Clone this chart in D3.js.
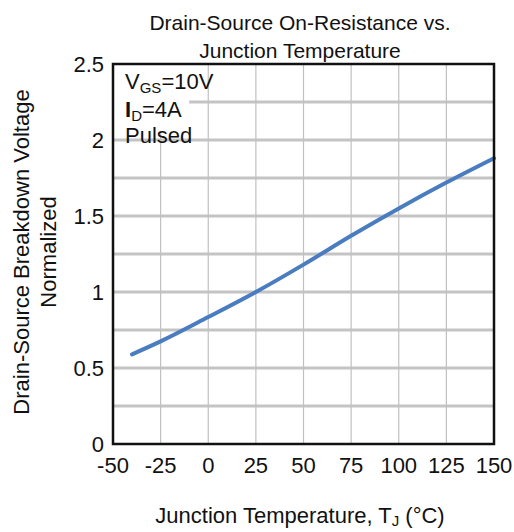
<!DOCTYPE html>
<style>
body { margin: 0; background: #fff; }
text { font-family: "Liberation Sans", Arial, sans-serif; fill: #111; }
.grid-h { stroke: #c4c4c4; stroke-width: 3px; }
.grid-v { stroke: #c0c0c0; stroke-width: 1.2px; }
.frame { fill: none; stroke: #111; stroke-width: 2.5px; }
.curve { fill: none; stroke: #4a7cc0; stroke-width: 4px; stroke-linecap: round; }
</style>
<svg width="514" height="532"></svg>
<script src="https://d3js.org/d3.v7.min.js"></script>
<script>

var svg = d3.select('svg'),
    margin = {top: 64, right: 20, bottom: 88, left: 113},
    width = 514 - margin.left - margin.right,
    height = 532 - margin.top - margin.bottom;

// data
var temps = [-40, -25, 0, 25, 50, 75, 100, 125, 150];
var resistance = [0.59, 0.675, 0.835, 1.0, 1.18, 1.37, 1.55, 1.72, 1.88];
var xTicks = [-50, -25, 0, 25, 50, 75, 100, 125, 150];
var yTicks = [0, 0.5, 1, 1.5, 2, 2.5];
var yGrid = [0.25, 0.5, 0.75, 1, 1.25, 1.5, 1.75, 2, 2.25];
var titleLines = ['Drain-Source On-Resistance vs.', 'Junction Temperature'];
var yLabelLines = ['Drain-Source Breakdown Voltage', 'Normalized'];

var x = d3.scaleLinear().domain([-50, 150]).range([0, width]);
var y = d3.scaleLinear().domain([0, 2.5]).range([height, 0]);

var g = svg.append('g').attr('transform', 'translate(' + margin.left + ',' + margin.top + ')');

g.selectAll('.grid-h')
  .data(yGrid)
  .enter().append('line')
  .attr('class', 'grid-h')
  .attr('x1', 0).attr('x2', width)
  .attr('y1', function(d){ return y(d) })
  .attr('y2', function(d){ return y(d) });

g.selectAll('.grid-v')
  .data(xTicks.slice(1, -1))
  .enter().append('line')
  .attr('class', 'grid-v')
  .attr('x1', function(d){ return x(d) })
  .attr('x2', function(d){ return x(d) })
  .attr('y1', 0).attr('y2', height);

// white box behind the conditions note
g.append('rect')
  .attr('x', 0).attr('y', 0)
  .attr('width', x(-10)).attr('height', y(2.05))
  .attr('fill', '#fff');

var line = d3.line()
  .x(function(d, i){ return x(temps[i]) })
  .y(function(d){ return y(d) })
  .curve(d3.curveMonotoneX);

g.append('path')
  .datum(resistance)
  .attr('class', 'curve')
  .attr('d', line);

g.append('rect')
  .attr('class', 'frame')
  .attr('x', 0).attr('y', 0)
  .attr('width', width).attr('height', height);

// tick labels
g.selectAll('.xt')
  .data(xTicks)
  .enter().append('text')
  .attr('class', 'xt')
  .attr('x', function(d){ return x(d) })
  .attr('y', height + 29)
  .attr('text-anchor', 'middle')
  .style('font-size', '22px')
  .text(function(d){ return d });

g.selectAll('.yt')
  .data(yTicks)
  .enter().append('text')
  .attr('class', 'yt')
  .attr('x', -9)
  .attr('y', function(d){ return y(d) + 8 })
  .attr('text-anchor', 'end')
  .style('font-size', '22px')
  .text(function(d){ return d });

// conditions note, one text per line
var n1 = g.append('text').attr('x', 12).attr('y', 25).style('font-size', '22px');
n1.append('tspan').text('V');
n1.append('tspan').attr('dy', 4).style('font-size', '15px').text('GS');
n1.append('tspan').attr('dy', -4).text('=10V');
var n2 = g.append('text').attr('x', 12).attr('y', 53).style('font-size', '22px');
n2.append('tspan').style('font-weight', 'bold').text('I');
n2.append('tspan').attr('dy', 4).style('font-size', '15px').text('D');
n2.append('tspan').attr('dy', -4).text('=4A');
g.append('text').attr('x', 12).attr('y', 79).style('font-size', '22px').text('Pulsed');

// title
svg.selectAll('.title')
  .data(titleLines)
  .enter().append('text')
  .attr('class', 'title')
  .attr('x', 300)
  .attr('y', function(d, i){ return 30 + i * 28 })
  .attr('text-anchor', 'middle')
  .style('font-size', '21px')
  .text(function(d){ return d });

// y label
svg.selectAll('.ylab')
  .data(yLabelLines)
  .enter().append('text')
  .attr('class', 'ylab')
  .attr('transform', function(d, i){ return 'translate(' + (29 + i * 27) + ',252) rotate(-90)' })
  .attr('text-anchor', 'middle')
  .style('font-size', '22px')
  .text(function(d){ return d });

// x label
var xl = svg.append('text')
  .attr('x', 300).attr('y', 523)
  .attr('text-anchor', 'middle')
  .style('font-size', '22px');
xl.append('tspan').text('Junction Temperature, T');
xl.append('tspan').attr('dy', 3).style('font-size', '15px').text('J');
xl.append('tspan').attr('dy', -3).text(' (°C)');

</script>
